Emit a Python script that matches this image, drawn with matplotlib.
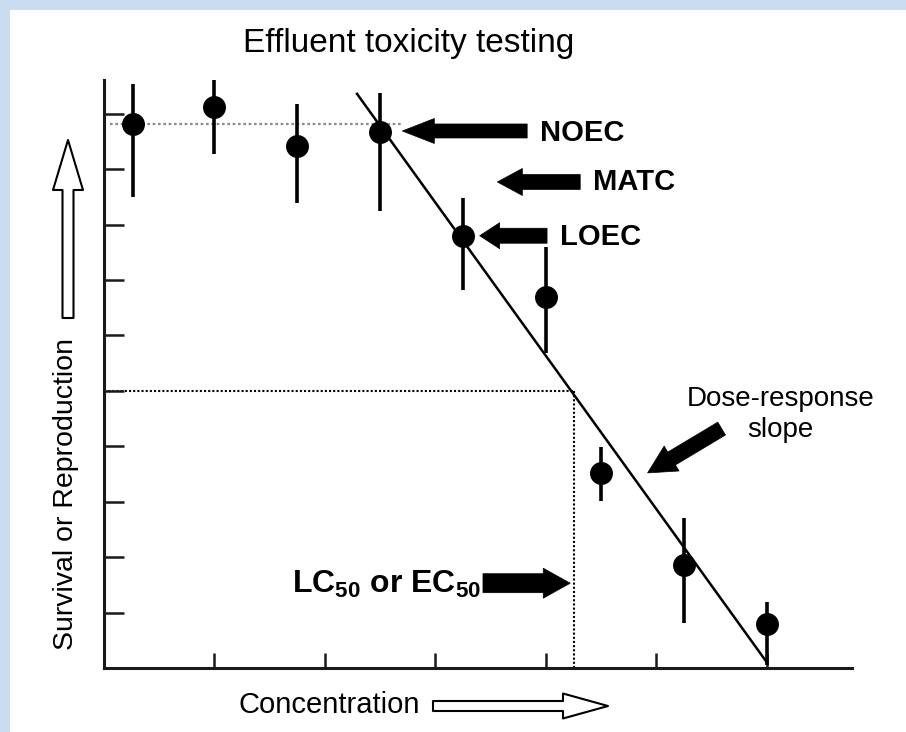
import matplotlib
matplotlib.use("Agg")
import matplotlib.pyplot as plt
from matplotlib.patches import Rectangle

plt.rcParams['font.family'] = ['Liberation Sans', 'DejaVu Sans']
plt.rcParams['mathtext.default'] = 'regular'

# test results (axis units: one tick mark = 1)
conc = [0.26, 1.0, 1.75, 2.5, 3.25, 4.0, 4.5, 5.25, 6.0]
resp = [9.81, 10.12, 9.42, 9.68, 7.79, 6.69, 3.52, 1.86, 0.79]
resp_lo = [8.50, 9.28, 8.39, 8.25, 6.82, 5.69, 3.01, 0.81, 0.05]
resp_hi = [10.54, 10.74, 10.18, 10.38, 8.48, 7.60, 3.99, 2.71, 1.19]

# dose-response line
slope_x = [2.29, 6.0]
slope_y = [10.36, 0.1]

# reference levels
noec_level = 9.82
noec_x = [0.05, 2.70]
ec50_x = 4.25
ec50_y = 5.0

yerr = [[r - lo for r, lo in zip(resp, resp_lo)],
        [hi - r for r, hi in zip(resp, resp_hi)]]

fig = plt.figure(figsize=(9.06, 7.32), dpi=100, facecolor='#c9dcf0')
fig.add_artist(Rectangle((10 / 906, 0), 1, 722 / 732, transform=fig.transFigure,
                         fc='white', ec='none', zorder=-1))

ax = fig.add_axes([104 / 906, 64 / 732, 748 / 906, 588 / 732])
ax.set_xlim(0, 6.77)
ax.set_ylim(0, 10.61)
for s in ['top', 'right']:
    ax.spines[s].set_visible(False)
for s in ['left', 'bottom']:
    ax.spines[s].set_linewidth(2.2)
    ax.spines[s].set_color('#1a1a1a')
ax.set_xticks(range(1, 7))
ax.set_yticks(range(1, 11))
ax.tick_params(axis='x', direction='in', length=10.8, width=1.8, labelbottom=False, color='#1a1a1a')
ax.tick_params(axis='y', direction='in', length=14.4, width=1.8, labelleft=False, color='#1a1a1a')

# dotted guides
ax.plot(noec_x, [noec_level, noec_level], color='#8a8a8a', ls=(0, (1.2, 1.2)), lw=1.6, zorder=1)
ax.plot([0, ec50_x], [ec50_y, ec50_y], color='black', ls=(0, (1, 1)), lw=1.5, zorder=1)
ax.plot([ec50_x, ec50_x], [0, ec50_y], color='black', ls=(0, (1, 1)), lw=1.5, zorder=1)

ax.plot(slope_x, slope_y, color='black', lw=1.8, zorder=2)
ax.errorbar(conc, resp, yerr=yerr, fmt='o', color='black', ms=15.5,
            elinewidth=2.6, capsize=0, zorder=3)


def fat_arrow(tail, tip, hl, hw, tw, coords='data', fc='black', lw=0.5):
    ax.annotate('', xy=tip, xytext=tail, xycoords=coords, textcoords=coords,
                annotation_clip=False,
                arrowprops=dict(arrowstyle=f'simple,head_length={hl},head_width={hw},tail_width={tw}',
                                fc=fc, ec='black', lw=lw, shrinkA=0, shrinkB=0,
                                mutation_scale=7.2))


fat_arrow((3.83, 9.69), (2.70, 9.69), 3.2, 2.5, 1.4)
fat_arrow((4.31, 8.77), (3.56, 8.77), 2.5, 2.7, 1.5)
fat_arrow((4.01, 7.80), (3.40, 7.80), 2.0, 2.6, 1.5)
fat_arrow((3.43, 1.53), (4.22, 1.53), 2.7, 3.0, 1.9)
fat_arrow((5.59, 4.32), (4.92, 3.52), 2.8, 2.9, 1.5)

ax.text(3.95, 9.66, 'NOEC', fontsize=21, fontweight='bold', ha='left', va='center')
ax.text(4.43, 8.77, 'MATC', fontsize=21, fontweight='bold', ha='left', va='center')
ax.text(4.13, 7.78, 'LOEC', fontsize=21, fontweight='bold', ha='left', va='center')
ax.text(3.41, 1.354, r'LC$_{50}$ or EC$_{50}$', fontsize=23, fontweight='bold',
        ha='right', va='baseline')
ax.text(6.12, 4.58, 'Dose-response\nslope', fontsize=20, ha='center', va='center',
        linespacing=1.25)

# titles and axis captions with hollow arrows
fig.text(243 / 906, 1 - 52 / 732, 'Effluent toxicity testing', fontsize=24,
         ha='left', va='baseline')
fig.text(66 / 906, 1 - 494 / 732, 'Survival or Reproduction', rotation=90,
         fontsize=20.5, ha='center', va='center')
fig.text(238 / 906, 1 - 705 / 732, 'Concentration', fontsize=21, ha='left', va='center')

fat_arrow((68, 414), (68, 592), 5.0, 3.0, 1.1, coords='figure pixels', fc='white', lw=1.5)
fat_arrow((433, 26), (608, 26), 4.5, 2.5, 1.0, coords='figure pixels', fc='white', lw=1.5)

fig.savefig('out.png', dpi=100)
